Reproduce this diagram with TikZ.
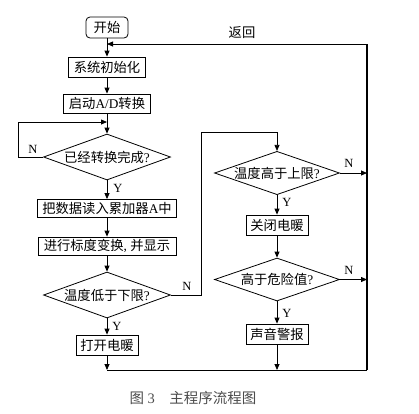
\documentclass[tikz,border=0pt]{standalone}
\usepackage{fontspec}
\setmainfont{Liberation Serif}
\newfontfamily\cjk{Noto Sans CJK SC}
\usetikzlibrary{shapes.geometric,arrows.meta}
\newcommand\zh[1]{{\cjk #1}}
\begin{document}
\begin{tikzpicture}[x=1pt,y=-1pt,
  every node/.style={font=\fontsize{13.3}{15}\selectfont},
  procbox/.style={draw,line width=0.8pt,inner sep=0pt,minimum height=19pt},
  startbox/.style={procbox,rounded corners=4pt},
  decbox/.style={draw,diamond,line width=0.8pt,inner sep=0pt,aspect=2.76,minimum width=127pt,minimum height=46pt},
  flow/.style={line width=0.8pt,-{Triangle[length=6pt,width=5pt]}},
  plain/.style={line width=0.8pt},
  lab/.style={inner sep=0pt,font=\fontsize{12.5}{14}\selectfont}]
\useasboundingbox (0,0) rectangle (419,413);
% main column
\node[startbox,minimum width=42pt,minimum height=21pt] (start) at (107,27.5) {\zh{开始}};
\node[procbox,minimum width=77pt,minimum height=20pt] (init) at (107,67) {\zh{系统初始化}};
\node[procbox,minimum width=87pt] (ad) at (107,103.5) {\zh{启动}A/D\zh{转换}};
\node[decbox] (d1) at (107,157) {\zh{已经转换完成}?};
\node[procbox,minimum width=139pt,minimum height=18pt] (read) at (107,208.5) {\zh{把数据读入累加器}A\zh{中}};
\node[procbox,minimum width=138pt,minimum height=18pt] (scale) at (107,246) {\zh{进行标度变换}, \zh{并显示}};
\node[decbox] (d2) at (107,295) {\zh{温度低于下限}?};
\node[procbox,minimum width=62pt,minimum height=20pt] (heat) at (107,345) {\zh{打开电暖}};
% right column
\node[decbox,minimum width=125pt,minimum height=42pt] (d3) at (277,173) {\zh{温度高于上限}?};
\node[procbox,minimum width=62pt,minimum height=20pt] (off) at (277,225) {\zh{关闭电暖}};
\node[decbox,minimum width=125pt,minimum height=43pt] (d4) at (277,279.5) {\zh{高于危险值}?};
\node[procbox,minimum width=62pt,minimum height=20pt] (alarm) at (277,334) {\zh{声音警报}};
% junction coordinates
\coordinate (rtop) at (367,44);
\coordinate (ltop) at (107,44);
\coordinate (rbot) at (367,370);
\coordinate (lbot) at (107,370);
\coordinate (cbot) at (277,370);
\coordinate (loopin) at (107,122);
\coordinate (r3) at (367,173);
\coordinate (r4) at (367,279.5);
% connectors
\draw[flow] (start) -- (init);
\draw[flow] (init) -- (ad);
\draw[flow] (ad) -- (d1);
\draw[flow] (d1) -- (read);
\draw[flow] (read) -- (scale);
\draw[flow] (scale) -- (d2);
\draw[flow] (d2) -- (heat);
\draw[flow] (heat) -- (lbot);
\draw[flow] (d1.west) -- (18,157) -- (18,122) -- (loopin);
\draw[flow] (d2.east) -- (201,295) -- (201,132) -- (277,132) -- (d3.north);
\draw[flow] (d3) -- (off);
\draw[flow] (off) -- (d4);
\draw[flow] (d4) -- (alarm);
\draw[flow] (alarm) -- (cbot);
\draw[flow] (d3.east) -- (r3);
\draw[flow] (d4.east) -- (r4);
\draw[plain] (lbot) -- (rbot);
\draw[line width=1.4pt] (rbot) -- (rtop);
\draw[flow] (rtop) -- (ltop);
% labels
\node[lab] (n1) at (33,149) {N};
\node[lab] (y1) at (118,188) {Y};
\node[lab] (n2) at (187,286) {N};
\node[lab] (y2) at (117,326) {Y};
\node[lab] (n3) at (349,163) {N};
\node[lab] (y3) at (287,202) {Y};
\node[lab] (n4) at (349,270) {N};
\node[lab] (y4) at (287,313) {Y};
\node[lab,font=\fontsize{13.3}{15}\selectfont] (ret) at (242,33) {\zh{返回}};
% caption
\node[inner sep=0pt,text=black!70,font=\fontsize{14.5}{16}\selectfont] (cap) at (193,398) {\zh{图}\ 3\quad\zh{主程序流程图}};
\end{tikzpicture}
\end{document}
